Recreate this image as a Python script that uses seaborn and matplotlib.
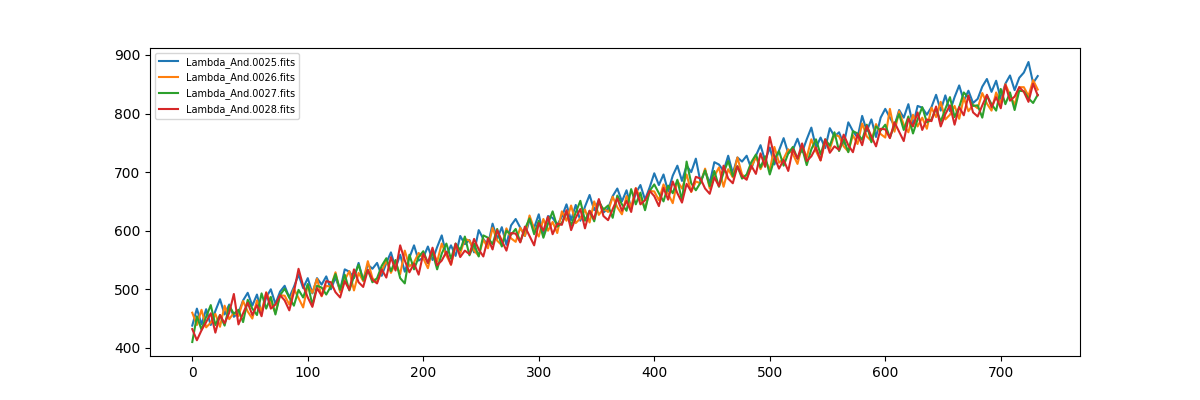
import numpy as np
import pandas as pd
import matplotlib
matplotlib.use("Agg")
import matplotlib.pyplot as plt
import seaborn as sns

x_step = 4

blue_0025 = [
    438, 467, 440, 466, 439, 463, 483, 457, 474, 453,
    460, 481, 494, 472, 491, 460, 486, 500, 475, 496,
    506, 486, 504, 525, 502, 519, 493, 519, 508, 522,
    500, 520, 498, 534, 530, 519, 545, 515, 542, 535,
    545, 523, 545, 563, 536, 559, 530, 554, 575, 549,
    554, 573, 550, 572, 592, 558, 575, 557, 591, 577,
    584, 563, 601, 586, 575, 612, 586, 606, 576, 609,
    620, 605, 591, 618, 605, 628, 592, 625, 622, 610,
    624, 645, 618, 644, 617, 641, 661, 635, 652, 631,
    638, 659, 672, 650, 669, 638, 664, 678, 653, 674,
    698, 678, 696, 667, 694, 711, 685, 711, 700, 723,
    683, 703, 681, 717, 713, 702, 728, 698, 725, 718,
    728, 706, 728, 746, 719, 742, 713, 737, 758, 732,
    738, 757, 734, 756, 776, 742, 759, 741, 775, 761,
    768, 747, 785, 770, 759, 796, 770, 790, 760, 793,
    808, 793, 779, 806, 793, 816, 780, 813, 810, 798,
    811, 832, 805, 831, 804, 828, 848, 822, 839, 818,
    825, 846, 859, 837, 856, 825, 851, 865, 840, 861,
    870, 888, 852, 864,
]

orange_0026 = [
    460, 439, 465, 435, 443, 458, 436, 472, 449, 460,
    454, 480, 462, 450, 481, 462, 495, 477, 460, 490,
    489, 474, 501, 485, 469, 507, 494, 518, 488, 506,
    504, 529, 495, 516, 531, 498, 528, 514, 548, 519,
    512, 531, 549, 528, 545, 526, 566, 539, 546, 562,
    553, 536, 567, 547, 578, 558, 542, 574, 561, 586,
    583, 566, 557, 585, 570, 605, 583, 575, 604, 587,
    581, 605, 591, 626, 603, 590, 620, 600, 615, 596,
    633, 617, 643, 613, 621, 636, 614, 650, 627, 638,
    632, 658, 640, 628, 659, 640, 673, 655, 638, 668,
    667, 652, 679, 663, 647, 685, 672, 696, 666, 684,
    681, 706, 672, 693, 708, 675, 705, 691, 725, 696,
    689, 708, 726, 705, 722, 703, 743, 716, 723, 739,
    731, 714, 745, 725, 756, 736, 720, 752, 739, 764,
    761, 744, 735, 763, 748, 783, 761, 753, 782, 765,
    759, 808, 769, 804, 781, 768, 798, 778, 793, 774,
    810, 794, 820, 790, 798, 813, 791, 827, 804, 815,
    809, 835, 817, 805, 836, 817, 850, 832, 815, 845,
    845, 830, 857, 841,
]

green_0027 = [
    410, 454, 431, 453, 473, 439, 456, 438, 472, 458,
    465, 444, 482, 467, 456, 493, 467, 487, 457, 490,
    501, 486, 472, 499, 486, 509, 473, 506, 503, 491,
    505, 526, 499, 525, 498, 522, 542, 516, 533, 512,
    519, 540, 553, 531, 550, 519, 510, 559, 534, 555,
    565, 545, 563, 534, 561, 578, 552, 578, 567, 590,
    558, 578, 556, 592, 588, 577, 603, 573, 600, 593,
    603, 581, 603, 621, 594, 617, 588, 612, 633, 607,
    613, 632, 609, 631, 651, 617, 634, 616, 650, 636,
    643, 622, 660, 645, 634, 671, 645, 665, 635, 668,
    679, 664, 650, 677, 664, 687, 651, 718, 681, 669,
    682, 703, 676, 702, 675, 699, 719, 693, 710, 689,
    696, 717, 730, 708, 727, 696, 722, 736, 711, 732,
    743, 723, 741, 712, 739, 756, 730, 756, 745, 768,
    736, 756, 734, 770, 766, 755, 781, 751, 778, 771,
    781, 759, 781, 799, 772, 795, 766, 790, 811, 785,
    790, 809, 786, 808, 828, 794, 811, 836, 827, 813,
    814, 793, 831, 816, 805, 842, 816, 836, 806, 839,
    838, 826, 818, 832,
]

red_0028 = [
    432, 413, 430, 444, 459, 426, 456, 442, 460, 492,
    440, 459, 477, 456, 473, 454, 494, 467, 474, 490,
    481, 464, 495, 535, 506, 486, 470, 502, 489, 514,
    512, 495, 486, 514, 499, 534, 512, 504, 533, 516,
    510, 534, 520, 555, 532, 575, 549, 529, 544, 525,
    561, 545, 571, 541, 549, 564, 542, 578, 555, 566,
    560, 586, 568, 556, 587, 568, 601, 583, 566, 596,
    595, 580, 607, 591, 575, 613, 600, 624, 594, 612,
    610, 635, 601, 622, 637, 604, 634, 620, 654, 625,
    618, 637, 655, 634, 651, 632, 672, 645, 652, 668,
    659, 642, 673, 653, 684, 664, 648, 680, 667, 692,
    689, 672, 663, 691, 676, 711, 689, 681, 710, 693,
    687, 711, 697, 732, 709, 760, 726, 706, 721, 702,
    739, 723, 749, 719, 727, 742, 720, 756, 733, 744,
    738, 764, 746, 734, 765, 746, 779, 761, 744, 774,
    773, 758, 785, 769, 753, 791, 778, 802, 772, 790,
    787, 812, 778, 799, 814, 781, 811, 797, 831, 802,
    795, 814, 832, 811, 828, 809, 849, 822, 829, 845,
    837, 820, 851, 831,
]

SERIES = {
    "Lambda_And.0025.fits": blue_0025,
    "Lambda_And.0026.fits": orange_0026,
    "Lambda_And.0027.fits": green_0027,
    "Lambda_And.0028.fits": red_0028,
}

COLORS = ["#1f77b4", "#ff7f0e", "#2ca02c", "#d62728"]

# ── Plot ──────────────────────────────────────────────────────────────
fig, ax = plt.subplots(figsize=(12, 4), dpi=100)

for (name, values), color in zip(SERIES.items(), COLORS):
    pixels = np.arange(len(values)) * x_step
    sns.lineplot(x=pixels, y=values, ax=ax, color=color, label=name, linewidth=1.5)

ax.legend(loc="upper left", fontsize=7)
ax.set_xlabel("")
ax.set_ylabel("")

plt.savefig("out.png", dpi=100)
plt.close()
